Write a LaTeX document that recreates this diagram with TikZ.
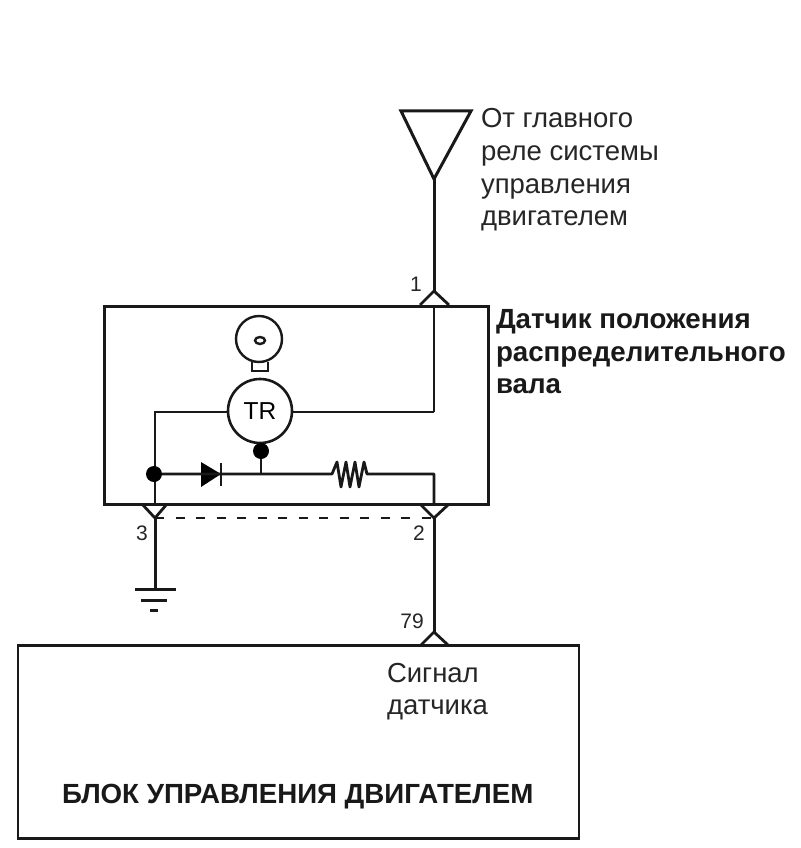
\documentclass[tikz,border=0pt]{standalone}
\usepackage{fontspec}
\setmainfont{Liberation Sans}
\usetikzlibrary{calc,shapes.geometric}
\tikzset{
  wire/.style={draw=black!90,line width=3pt},
  thin wire/.style={draw=black!90,line width=2.8pt},
  lbl/.style={inner sep=0pt,outer sep=0pt,anchor=base west,text=black!85,font=\fontsize{27.5}{27.5}\selectfont},
  blbl/.style={inner sep=0pt,outer sep=0pt,anchor=base west,text=black!90,font=\fontsize{27.7}{27.7}\selectfont\bfseries},
  num/.style={inner sep=0pt,outer sep=0pt,anchor=base,text=black!85,font=\fontsize{21}{21}\selectfont},
  dot/.style={circle,fill=black,inner sep=0pt,minimum size=16pt},
  pt/.style={inner sep=0pt,outer sep=0pt,minimum size=0pt}
}
\begin{document}
\begin{tikzpicture}[x=1pt,y=-1pt]
\useasboundingbox (0,0) rectangle (800,848);
\fill[white] (0,0) rectangle (800,848);
% coordinates
\coordinate (ant) at (434,179);
\coordinate (c1) at (434,291);
\coordinate (c1in) at (434,306);
\coordinate (bend) at (434,412);
\coordinate (lbend) at (155,412);
\coordinate (c3top) at (155,503);
\coordinate (c3) at (155,518);
\coordinate (c2top) at (434,503);
\coordinate (c2) at (434,518);
\coordinate (c79) at (434,632);
\coordinate (gnd) at (155,589);
\coordinate (rcorner) at (434,474);
% boxes
\node[pt,wire,rectangle,minimum width=384pt,minimum height=198pt,anchor=north west,line width=3pt] (sensor) at (104,306) {};
\node[pt,wire,rectangle,minimum width=561pt,minimum height=193pt,anchor=north west,line width=2.8pt] (ecu) at (18,645.5) {};
% supply triangle
\draw[wire,line join=miter] (401,111) -- (471,111) -- (ant) -- cycle;
\draw[wire] (ant) -- (c1);
% connector 1
\draw[thin wire,line join=miter] (420,305) -- (c1) -- (449,305);
% inner wiring
\draw[thin wire] (c1in) -- (bend);
\node[circle,draw=black!90,line width=2.6pt,minimum size=64pt,inner sep=0pt,font=\fontsize{24.5}{24.5}\selectfont] (tr) at (260,411) {TR};
\draw[thin wire] (bend) -- (tr.east |- bend);
\draw[thin wire] (tr.west |- lbend) -- (lbend) -- (c3top);
\node[dot] (d1) at (154,474) {};
\node[dot] (d2) at (261,451) {};
\coordinate (stem) at (261,474);
\draw[thin wire] (d2) -- (stem);
% diode
\coordinate (da) at (201,474);
\coordinate (dk) at (221,474);
\fill[black] (201,462) -- (221,474) -- (201,487) -- cycle;
\draw[thin wire] (221,463) -- (221,486);
% resistor
\draw[thin wire,line join=round] (d1) -- (dk) -- (stem) -- (332,474)
 -- (337,462) -- (341,487) -- (346,462) -- (350,487) -- (355,462) -- (359,487) -- (364,462) -- (367,474)
 -- (rcorner) -- (c2top);
% cam
\draw[line width=2.4pt,draw=black!90] (252,362) -- (252,371) -- (268,371) -- (268,362);
\node[circle,draw=black!90,fill=white,line width=2.4pt,minimum size=46pt,inner sep=0pt] (cam) at (259,339) {};
\node[ellipse,draw=black!90,line width=2.4pt,minimum width=10pt,minimum height=7pt,inner sep=0pt] (hole) at (260,340.5) {};
% connectors 3, 2
\draw[thin wire,line join=miter] (142,504) -- (c3) -- (167,504);
\draw[thin wire,line join=miter] (420,504) -- (c2) -- (449,504);
\draw[draw=black!90,line width=1.8pt,dash pattern=on 9pt off 11.5pt] (c3) -- (c2);
\draw[wire] (c3) -- (gnd);
\draw[wire] (c2) -- (c79);
\draw[thin wire,line join=miter] (421,645) -- (c79) -- (448,645);
% ground
\draw[wire] (135,589) -- (176,589);
\draw[wire] (141,600) -- (167,600);
\draw[wire] (150,610) -- (158,610);
% labels
\node[lbl] (t1) at (481,128) {От главного};
\node[lbl] (t2) at (481,160) {реле системы};
\node[lbl] (t3) at (481,193) {управления};
\node[lbl] (t4) at (481,225) {двигателем};
\node[blbl] (s1) at (496,328) {Датчик положения};
\node[blbl] (s2) at (496,361) {распределительного};
\node[blbl] (s3) at (496,393) {вала};
\node[num] (n1) at (416,291) {1};
\node[num] (n3) at (142,540) {3};
\node[num] (n2) at (419,540) {2};
\node[num] (n79) at (412,628) {79};
\node[lbl] (e1) at (387,682) {Сигнал};
\node[lbl] (e2) at (387,714) {датчика};
\node[blbl] (e3) at (62,803) {БЛОК УПРАВЛЕНИЯ ДВИГАТЕЛЕМ};
\end{tikzpicture}
\end{document}
